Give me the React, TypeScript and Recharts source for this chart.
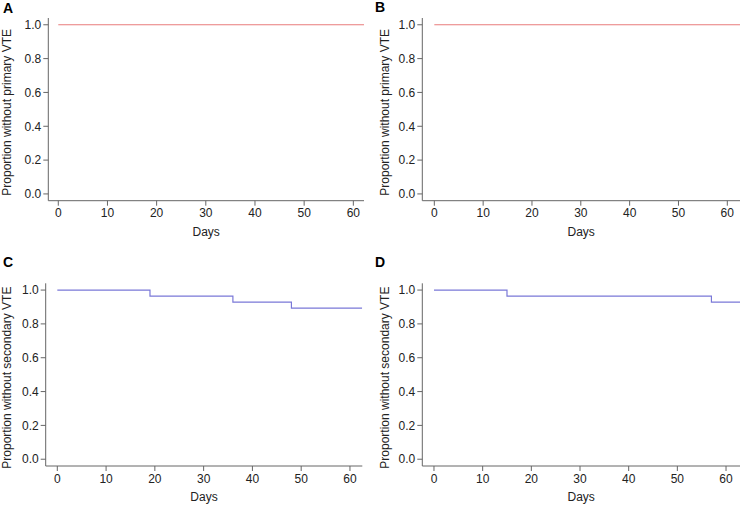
import React from 'react';
import { LineChart, Line, XAxis, YAxis } from 'recharts';

// Kaplan-Meier style step curves, days vs proportion event-free
const daysA = [0, 62.2];
const survA = [1, 1];
const daysB = [0, 62.6];
const survB = [1, 1];
const daysC = [0, 19, 36, 48, 62.5];
const survC = [1, 0.964, 0.929, 0.893, 0.893];
const daysD = [0, 15, 57, 62.9];
const survD = [1, 0.964, 0.929, 0.929];

const xTicks = [0, 10, 20, 30, 40, 50, 60];
const yTicks = [0, 0.2, 0.4, 0.6, 0.8, 1.0];

const FONT = '"Liberation Sans", Arial, Helvetica, sans-serif';
const AXIS = '#666';
const TEXT = '#222';
const RED = '#e87b7b';
const BLUE = '#7a78d8';

const toRows = (days: number[], surv: number[]) => days.map((d, i) => ({ day: d, surv: surv[i] }));

interface PanelProps {
  letter: string;
  left: number;
  top: number;
  width: number;
  height: number;
  axisX: number;
  axisTop: number;
  axisBottom: number;
  axisRight: number;
  xDomain: [number, number];
  rows: { day: number; surv: number }[];
  color: string;
  yLabel: string;
  labelX: number;
  letterY: number;
  letterX: number;
}

const X_AXIS_H = 30;

const Panel: React.FC<PanelProps> = (p) => {
  const plotMid = (p.axisTop + p.axisBottom) / 2;
  const plotMidX = (p.axisX + p.axisRight) / 2;
  return (
    <div style={{ position: 'absolute', left: p.left, top: p.top, width: p.width, height: p.height }}>
      <LineChart
        width={p.width}
        height={p.height}
        data={p.rows}
        margin={{ top: p.axisTop, right: p.width - p.axisRight, bottom: p.height - p.axisBottom - X_AXIS_H, left: 0 }}
        style={{ fontFamily: FONT }}
      >
        <XAxis
          dataKey="day"
          type="number"
          domain={p.xDomain}
          ticks={xTicks}
          height={X_AXIS_H}
          allowDataOverflow
          stroke={AXIS}
          tickSize={5}
          tickMargin={3}
          tick={{ fill: TEXT, fontSize: 12 }}
        />
        <YAxis
          type="number"
          domain={[-0.04, 1.04]}
          ticks={yTicks}
          width={p.axisX}
          allowDataOverflow
          stroke={AXIS}
          tickSize={5}
          tickMargin={2}
          tick={{ fill: TEXT, fontSize: 12 }}
          tickFormatter={(v: number) => v.toFixed(1)}
        />
        <Line
          type="stepAfter"
          dataKey="surv"
          stroke={p.color}
          strokeWidth={1.2}
          dot={false}
          isAnimationActive={false}
        />
      </LineChart>
      <svg
        width={p.width}
        height={p.height}
        style={{ position: 'absolute', left: 0, top: 0, pointerEvents: 'none', fontFamily: FONT }}
      >
        <text x={p.letterX} y={p.letterY} fontSize={14} fontWeight="bold" fill="#000">
          {p.letter}
        </text>
        <text
          x={p.labelX}
          y={plotMid + 3}
          fontSize={12}
          fill={TEXT}
          textAnchor="middle"
          dominantBaseline="central"
          transform={`rotate(-90 ${p.labelX} ${plotMid + 3})`}
        >
          {p.yLabel}
        </text>
        <text x={plotMidX} y={p.axisBottom + 35} fontSize={12} fill={TEXT} textAnchor="middle">
          Days
        </text>
      </svg>
    </div>
  );
};

export default function App() {
  return (
    <div style={{ position: 'absolute', left: 0, top: 0, width: 740, height: 505, background: '#fff', overflow: 'hidden' }}>
      <Panel
        letter="A"
        left={0}
        top={0}
        width={370}
        height={250}
        axisX={48.3}
        axisTop={18}
        axisBottom={200.7}
        axisRight={364}
        xDomain={[-2.03, 62.17]}
        rows={toRows(daysA, survA)}
        color={RED}
        yLabel="Proportion without primary VTE"
        labelX={7}
        letterX={3}
        letterY={13}
      />
      <Panel
        letter="B"
        left={370}
        top={0}
        width={370}
        height={250}
        axisX={52.3}
        axisTop={18}
        axisBottom={200.7}
        axisRight={370}
        xDomain={[-2.46, 62.6]}
        rows={toRows(daysB, survB)}
        color={RED}
        yLabel="Proportion without primary VTE"
        labelX={15}
        letterX={5}
        letterY={12}
      />
      <Panel
        letter="C"
        left={0}
        top={250}
        width={370}
        height={255}
        axisX={45.7}
        axisTop={33.3}
        axisBottom={216}
        axisRight={362.3}
        xDomain={[-2.38, 62.53]}
        rows={toRows(daysC, survC)}
        color={BLUE}
        yLabel="Proportion without secondary VTE"
        labelX={7.3}
        letterX={3}
        letterY={17}
      />
      <Panel
        letter="D"
        left={370}
        top={250}
        width={370}
        height={255}
        axisX={52.3}
        axisTop={33.3}
        axisBottom={216}
        axisRight={370}
        xDomain={[-2.4, 62.87]}
        rows={toRows(daysD, survD)}
        color={BLUE}
        yLabel="Proportion without secondary VTE"
        labelX={15}
        letterX={5}
        letterY={17}
      />
    </div>
  );
}
